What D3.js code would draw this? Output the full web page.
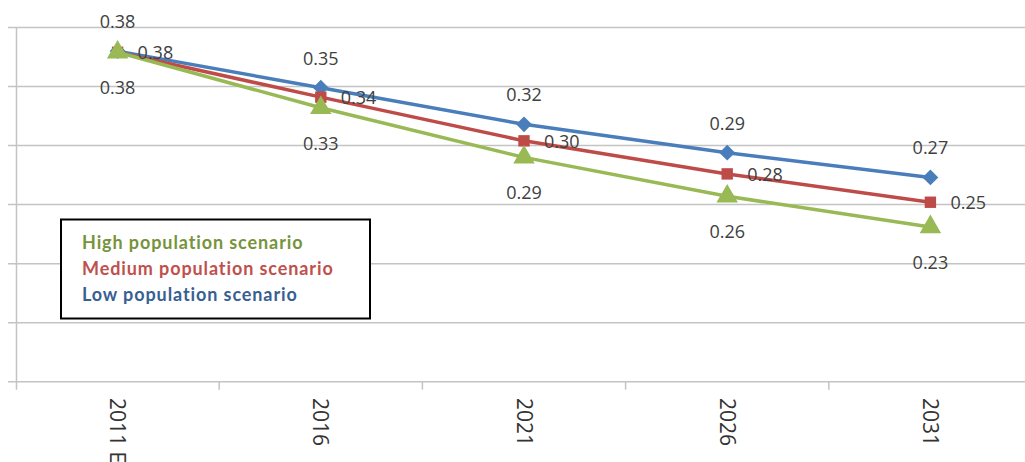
<!DOCTYPE html>
<html>
<head>
<meta charset="utf-8">
<script src="https://cdn.jsdelivr.net/npm/d3@7"></script>
<style>
  html, body { margin: 0; padding: 0; background: #ffffff; }
  svg { display: block; }
</style>
</head>
<body>
<svg id="chart" width="1025" height="462"></svg>
<script>
// Projected values by year for three population scenarios
const years = ["2011 Estimate", "2016", "2021", "2026", "2031"];
const lowScenario = [0.380, 0.349, 0.318, 0.294, 0.273];
const mediumScenario = [0.379, 0.341, 0.304, 0.276, 0.252];
const highScenario = [0.379, 0.332, 0.290, 0.257, 0.231];
const yTicks = [0.10, 0.15, 0.20, 0.25, 0.30, 0.35, 0.40];
const legendNames = ["High population scenario", "Medium population scenario", "Low population scenario"];

const svg = d3.select("#chart");

const x = d3.scaleBand().domain(years).range([16, 1032]).paddingInner(0).paddingOuter(0);
const y = d3.scaleLinear().domain([0.10, 0.40]).range([381.7, 27.5]);
const cx = d => x(d) + x.bandwidth() / 2;
const fmt = d3.format(".2f");

// Horizontal gridlines with short tick stubs left of the axis
svg.append("g").selectAll("line")
  .data(yTicks)
  .join("line")
  .attr("x1", 8).attr("x2", 1032)
  .attr("y1", d => y(d)).attr("y2", d => y(d))
  .attr("stroke", "#c4c4c4").attr("stroke-width", 1.5);

// Vertical axis line
svg.append("line")
  .attr("x1", 16.5).attr("x2", 16.5)
  .attr("y1", y(0.40)).attr("y2", y(0.10) + 8)
  .attr("stroke", "#c4c4c4").attr("stroke-width", 1.5);

// Category boundary tick marks below the baseline
const boundaries = years.map(d => x(d)).concat([x.range()[1]]);
svg.append("g").selectAll("line")
  .data(boundaries.slice(1))
  .join("line")
  .attr("x1", d => d).attr("x2", d => d)
  .attr("y1", y(0.10)).attr("y2", y(0.10) + 8)
  .attr("stroke", "#c4c4c4").attr("stroke-width", 1.5);

// Rotated category labels
svg.append("g").selectAll("text")
  .data(years)
  .join("text")
  .attr("transform", d => `translate(${cx(d)},398) rotate(90)`)
  .attr("text-anchor", "start")
  .attr("dy", "0.35em")
  .attr("font-family", "'Open Sans', sans-serif")
  .attr("font-size", 21)
  .attr("fill", "#333333")
  .text(d => d);

const series = [
  { values: lowScenario, color: "#4a7ebb", shape: d3.symbolSquare, size: 125, rotate: 45, label: "above" },
  { values: mediumScenario, color: "#be4b48", shape: d3.symbolSquare, size: 130, rotate: 0, label: "right" },
  { values: highScenario, color: "#98b954", shape: d3.symbolTriangle, size: 200, rotate: 0, label: "below" }
];

const line = d3.line().x((v, i) => cx(years[i])).y(v => y(v));

series.forEach(s => {
  const g = svg.append("g");
  g.append("path")
    .datum(s.values)
    .attr("d", line)
    .attr("fill", "none")
    .attr("stroke", s.color)
    .attr("stroke-width", 3.5)
    .attr("stroke-linejoin", "round");
  g.selectAll("path.marker")
    .data(s.values)
    .join("path")
    .attr("class", "marker")
    .attr("transform", (v, i) => `translate(${cx(years[i])},${y(v)}) rotate(${s.rotate})`)
    .attr("d", d3.symbol().type(s.shape).size(s.size))
    .attr("fill", s.color);
});

// Value labels: low above, medium to the right, high below
series.forEach(s => {
  svg.append("g").selectAll("text")
    .data(s.values)
    .join("text")
    .attr("x", (v, i) => s.label === "right" ? cx(years[i]) + 20 : cx(years[i]))
    .attr("y", v => s.label === "above" ? y(v) - 23 : s.label === "below" ? y(v) + 42 : y(v) + 7)
    .attr("text-anchor", s.label === "right" ? "start" : "middle")
    .attr("font-family", "'Open Sans', sans-serif")
    .attr("font-size", 18)
    .attr("fill", "#404040")
    .text(v => fmt(v));
});

// Legend box
const legendColors = ["#77933c", "#c0504d", "#376092"];
const legend = svg.append("g");
legend.append("rect")
  .attr("x", 61).attr("y", 219.5)
  .attr("width", 309).attr("height", 99)
  .attr("fill", "#ffffff")
  .attr("stroke", "#000000").attr("stroke-width", 2);
legend.selectAll("text")
  .data(legendNames)
  .join("text")
  .attr("x", 82)
  .attr("y", (d, i) => 249 + i * 26)
  .attr("font-family", "Lato, sans-serif")
  .attr("font-weight", "bold")
  .attr("font-size", 18)
  .attr("letter-spacing", 0.9)
  .attr("fill", (d, i) => legendColors[i])
  .text(d => d);
</script>
</body>
</html>
